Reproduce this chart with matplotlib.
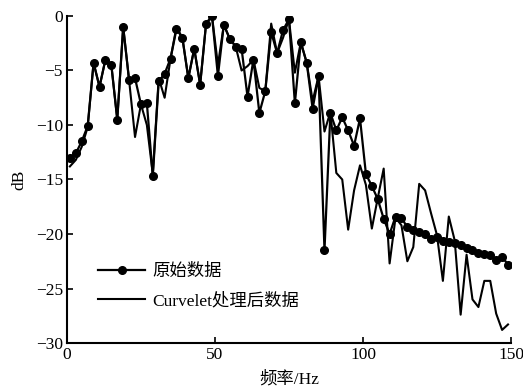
import numpy as np
import matplotlib
matplotlib.use('Agg')
import matplotlib.pyplot as plt

plt.rcParams['font.family'] = ['Liberation Serif', 'Noto Sans CJK SC']
plt.rcParams['axes.unicode_minus'] = True

# frequency grid (Hz)
freq = np.arange(1, 150, 2)

orig = [-13.0, -12.6, -11.5, -10.1, -4.3, -6.5, -4.0, -4.5, -9.5, -1.0,
        -5.9, -5.7, -8.1, -8.0, -14.7, -6.0, -5.3, -3.9, -1.2, -2.0,
        -5.7, -3.0, -6.3, -0.7, 0.0, -5.5, -0.8, -2.1, -2.8, -3.0,
        -7.4, -4.0, -8.9, -6.9, -1.5, -3.4, -1.3, -0.3, -8.0, -2.4,
        -4.3, -8.5, -5.5, -21.5, -8.9, -10.5, -9.3, -10.5, -11.9, -9.4,
        -14.5, -15.6, -16.8, -18.6, -20.0, -18.4, -18.5, -19.4, -19.6, -19.8,
        -20.0, -20.5, -20.3, -20.6, -20.7, -20.8, -21.0, -21.3, -21.5, -21.7,
        -21.8, -21.9, -22.4, -22.1, -22.8]

curvelet = [-13.8, -13.2, -12.0, -10.2, -4.3, -6.5, -4.0, -4.5, -9.5, -1.0,
            -5.9, -11.1, -8.1, -10.0, -14.5, -5.7, -7.5, -3.9, -1.0, -2.0,
            -5.7, -3.0, -6.3, -0.7, 0.0, -4.5, -0.8, -2.1, -2.8, -5.0,
            -4.6, -4.0, -6.6, -6.9, -0.7, -3.4, -2.0, -0.3, -5.2, -2.4,
            -4.3, -7.8, -5.5, -10.6, -8.8, -14.4, -15.0, -19.6, -16.0, -13.7,
            -15.5, -19.5, -16.7, -14.0, -22.7, -18.5, -19.2, -22.5, -21.2, -15.4,
            -16.0, -18.1, -20.1, -24.3, -18.4, -20.6, -27.4, -21.9, -26.0, -26.7,
            -24.3, -24.3, -27.3, -28.8, -28.3]

fig = plt.figure(figsize=(5.23, 3.9), dpi=100)
ax = fig.add_axes([0.128, 0.1205, 0.849, 0.8385])

ax.plot(freq, orig, color='k', lw=1.6, marker='o', ms=5.5, label='原始数据')
ax.plot(freq, curvelet, color='k', lw=1.5, label='Curvelet处理后数据')

ax.set_xlim(0, 150)
ax.set_ylim(-30, 0)
ax.set_xticks([0, 50, 100, 150])
ax.set_yticks([0, -5, -10, -15, -20, -25, -30])
ax.spines['top'].set_visible(False)
ax.spines['right'].set_visible(False)
ax.spines['left'].set_linewidth(1.5)
ax.spines['bottom'].set_linewidth(1.5)
ax.tick_params(direction='in', length=4, width=1.2, labelsize=12.5, pad=3)

ax.set_xlabel('频率/Hz', fontsize=12.5, labelpad=6)
ax.set_ylabel('dB', fontsize=12.5, labelpad=6)

ax.legend(loc='lower left', bbox_to_anchor=(0.035, 0.055), frameon=False,
          fontsize=12.5, handlelength=2.7, labelspacing=0.75, handletextpad=0.4)

fig.savefig('out.png', dpi=100)
